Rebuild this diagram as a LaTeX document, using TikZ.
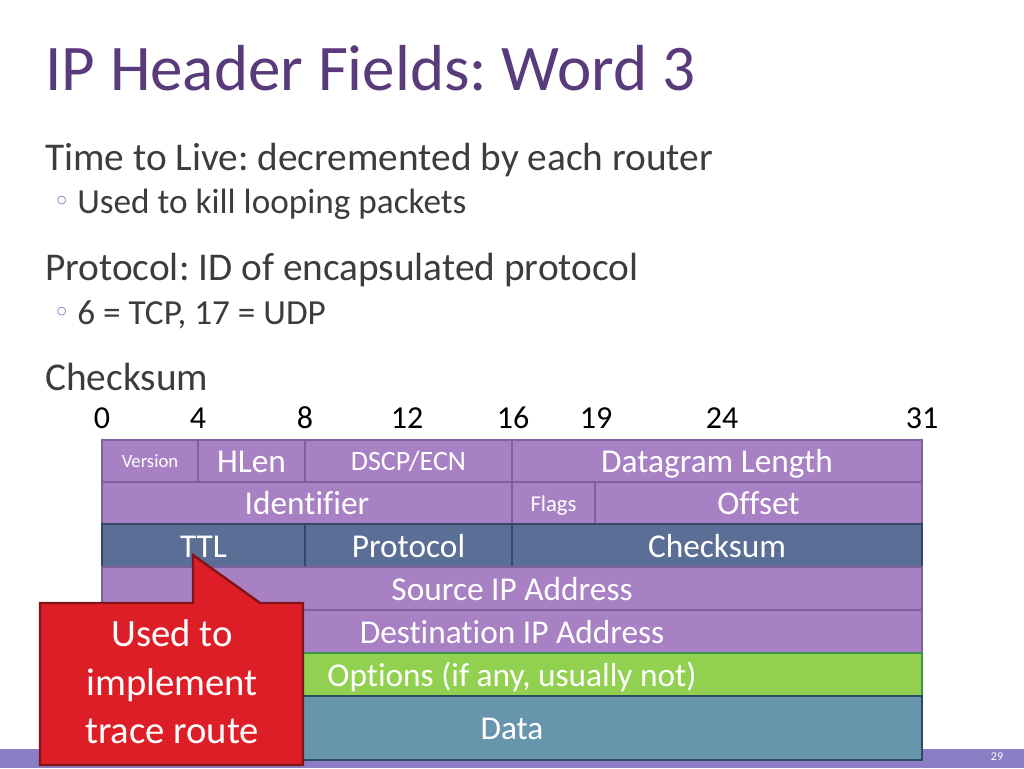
\documentclass[tikz,border=0pt]{standalone}
\usepackage{fontspec}
\setmainfont{Carlito}[Ligatures=NoCommon]
\newfontfamily\symfont{DejaVu Sans}
\frenchspacing
\definecolor{titlecol}{RGB}{89,58,122}
\definecolor{bodycol}{RGB}{60,60,60}
\definecolor{bulcol}{RGB}{142,124,195}
\definecolor{pfill}{RGB}{168,129,196}
\definecolor{pline}{RGB}{125,96,158}
\definecolor{bfill}{RGB}{91,111,150}
\definecolor{bline}{RGB}{55,70,100}
\definecolor{gfill}{RGB}{146,208,80}
\definecolor{gline}{RGB}{60,150,80}
\definecolor{dfill}{RGB}{103,149,171}
\definecolor{dline}{RGB}{45,75,95}
\definecolor{rfill}{RGB}{222,30,38}
\definecolor{rline}{RGB}{130,20,25}
\definecolor{barcol}{RGB}{139,126,196}
\newcommand\fld[7]{\node[#2, anchor=north west, minimum width={(#5-#3)*0.75pt}, minimum height={(#6-#4)*0.75pt}] (#1) at (#3,#4) {#7};}
\begin{document}
\begin{tikzpicture}[x=0.75pt,y=-0.75pt,
  cell/.style={draw=pline, fill=pfill, line width=1.1pt, text=white, inner sep=0pt, outer sep=0pt, text height=17.5pt, text depth=0pt, font=\fontsize{25}{30}\selectfont},
  bcell/.style={cell, draw=bline, fill=bfill},
  gcell/.style={cell, draw=gline, fill=gfill},
  dcell/.style={cell, draw=dline, fill=dfill},
  small/.style={font=\fontsize{14}{16}\selectfont, text height=10pt},
  mid/.style={font=\fontsize{21}{24}\selectfont, text height=14.5pt},
  flg/.style={font=\fontsize{17}{20}\selectfont, text height=12pt},
  body/.style={anchor=base west, inner sep=0pt, text=bodycol, font=\fontsize{29.5}{34}\selectfont},
  sub/.style={anchor=base west, inner sep=0pt, text=bodycol, font=\fontsize{26.4}{30}\selectfont},
  bul/.style={inner sep=0pt, text=bulcol, font=\symfont\fontsize{22}{24}\selectfont},
  bit/.style={anchor=base, inner sep=0pt, text=black, font=\fontsize{24}{28}\selectfont}]
\useasboundingbox (0,0) rectangle (1024,768);
% bottom bar
\fill[barcol] (0,749) rectangle (1024,768);
\node[text=white, inner sep=0pt, font=\fontsize{9}{10}\selectfont] (pg) at (997,757) {29};
% title
\node[anchor=base west, inner sep=0pt, text=titlecol, font=\fontsize{48.8}{56}\selectfont] (title) at (45,90) {IP Header Fields: Word 3};
% bullets
\node[body] (b1) at (45,170) {Time to Live: decremented by each router};
\node[bul] (d1) at (62,204) {◦};
\node[sub] (s1) at (77,213) {Used to kill looping packets};
\node[body] (b2) at (45,280) {Protocol: ID of encapsulated protocol};
\node[bul] (d2) at (62,315) {◦};
\node[sub] (s2) at (77,324) {6 = TCP, 17 = UDP};
\node[body] (b3) at (45,390) {Checksum};
% bit numbers
\node[bit] (n0) at (102,428) {0};
\node[bit] (n4) at (198,428) {4};
\node[bit] (n8) at (305,428) {8};
\node[bit] (n12) at (407,428) {12};
\node[bit] (n16) at (513,428) {16};
\node[bit] (n19) at (596,428) {19};
\node[bit] (n24) at (722,428) {24};
\node[bit] (n31) at (922,428) {31};
% header rows
\fld{ver}{cell,small}{102}{440}{198}{482}{Version}
\fld{hlen}{cell}{198}{440}{305}{482}{HLen}
\fld{dscp}{cell,mid}{305}{440}{512}{482}{DSCP/ECN}
\fld{dlen}{cell}{512}{440}{922}{482}{Datagram Length}
\fld{ident}{cell}{102}{482}{512}{524}{Identifier}
\fld{flags}{cell,flg}{512}{482}{595}{524}{Flags}
\fld{offset}{cell}{595}{482}{922}{524}{Offset}
\fld{ttl}{bcell}{102}{524}{305}{567}{TTL}
\fld{proto}{bcell}{305}{524}{512}{567}{Protocol}
\fld{csum}{bcell}{512}{524}{922}{567}{Checksum}
\fld{src}{cell}{102}{567}{922}{610}{Source IP Address}
\fld{dst}{cell}{102}{610}{922}{653}{Destination IP Address}
\fld{opts}{gcell}{102}{653}{922}{696}{Options (if any, usually not)}
\fld{data}{dcell}{102}{696}{922}{760}{Data}
% callout
\path[fill=rfill, draw=rline, line width=1.8pt, line join=miter]
  (40,603) -- (193,603) -- (193,555) -- (260,603) -- (303,603) -- (303,765) -- (40,765) -- cycle;
\node[align=center, text=white, inner sep=0pt, font=\fontsize{29}{36.4}\selectfont] (note) at (172,682) {Used to\\implement\\trace route};
\end{tikzpicture}
\end{document}
